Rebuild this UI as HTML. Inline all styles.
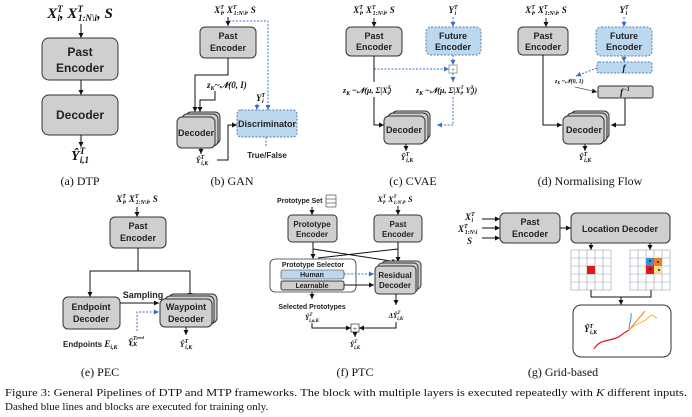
<!DOCTYPE html>
<html><head><meta charset="utf-8"><style>
html,body{margin:0;padding:0;background:#fff}
svg{display:block}
.b{font-family:"Liberation Sans",sans-serif;font-weight:bold;fill:#222}
.m{font-family:"Liberation Serif",serif;font-weight:bold;font-style:italic;fill:#111}
.c{font-family:"Liberation Serif",serif;fill:#111}
.g{fill:#d0cfcf;stroke:#333;stroke-width:1}
.bl{fill:#bcd8ef;stroke:#5a7fa8;stroke-width:1;stroke-dasharray:2 1.5}
.l{stroke:#111;stroke-width:1;fill:none}
.d{stroke:#3a6fd0;stroke-width:1;fill:none;stroke-dasharray:2 1.5}
</style></head><body>
<svg width="692" height="417" viewBox="0 0 692 417" xmlns="http://www.w3.org/2000/svg">
<defs>
<marker id="a" markerWidth="6" markerHeight="6" refX="5" refY="3" orient="auto" markerUnits="userSpaceOnUse"><path d="M0,0.5 L5,3 L0,5.5z" fill="#111"/></marker>
<marker id="ab" markerWidth="6" markerHeight="6" refX="5" refY="3" orient="auto" markerUnits="userSpaceOnUse"><path d="M0,0.5 L5,3 L0,5.5z" fill="#3a6fd0"/></marker>
</defs>

<!-- (a) DTP -->
<text x="80" y="18" class="m" font-size="15" text-anchor="middle">X<tspan font-size="9" dy="-6">T</tspan><tspan font-size="9" dy="9" dx="-5">i</tspan><tspan dy="-3">, X</tspan><tspan font-size="9" dy="-6">T</tspan><tspan font-size="9" dy="9" dx="-5">1:N\i</tspan><tspan dy="-3">, S</tspan></text>
<line x1="81" y1="24" x2="81" y2="38" class="l" marker-end="url(#a)"/>
<rect x="42" y="38" width="76" height="42" rx="7" class="g"/>
<text x="80" y="56" class="b" font-size="12" text-anchor="middle">Past</text>
<text x="80" y="72" class="b" font-size="12" text-anchor="middle">Encoder</text>
<line x1="81" y1="80" x2="81" y2="95" class="l" marker-end="url(#a)"/>
<rect x="42" y="95" width="76" height="40" rx="7" class="g"/>
<text x="80" y="119" class="b" font-size="12" text-anchor="middle">Decoder</text>
<line x1="81" y1="135" x2="81" y2="147" class="l" marker-end="url(#a)"/>
<text x="80" y="160" class="m" font-size="14" text-anchor="middle">Ŷ<tspan font-size="9" dy="-6">T</tspan><tspan font-size="9" dy="9" dx="-5">i,1</tspan></text>
<text x="80" y="185" class="c" font-size="12" text-anchor="middle">(a) DTP</text>

<!-- (b) GAN -->
<text x="235" y="13" class="m" font-size="9" text-anchor="middle">X<tspan font-size="6" dy="-4">T</tspan><tspan font-size="6" dy="6" dx="-3">i</tspan><tspan dy="-2">, X</tspan><tspan font-size="6" dy="-4">T</tspan><tspan font-size="6" dy="6" dx="-3">1:N\i</tspan><tspan dy="-2">, S</tspan></text>
<line x1="228" y1="17" x2="228" y2="26" class="l" marker-end="url(#a)"/>
<path d="M229,21 H268 V110" class="d" marker-end="url(#ab)"/>
<rect x="200" y="27" width="56" height="31" rx="5" class="g"/>
<text x="228" y="39" class="b" font-size="9" text-anchor="middle">Past</text>
<text x="228" y="51" class="b" font-size="9" text-anchor="middle">Encoder</text>
<path d="M228,58 V75 H195 V112" class="l" marker-end="url(#a)"/>
<text x="207" y="88" class="m" font-size="9">z<tspan font-size="6" dy="2">K</tspan><tspan dy="-2">~𝒩(0, I)</tspan></text>
<path d="M215,91 V100 H200 V112" class="l" marker-end="url(#a)"/>
<text x="256" y="101" class="m" font-size="9">Y<tspan font-size="6" dy="-4">T</tspan><tspan font-size="6" dy="6" dx="-3">i</tspan></text>
<line x1="257" y1="104" x2="257" y2="110" class="d" marker-end="url(#ab)"/>
<rect x="186" y="112" width="34" height="32" rx="5" class="g"/>
<rect x="182" y="114" width="36" height="32" rx="5" class="g"/>
<rect x="177" y="117" width="38" height="31" rx="5" class="g"/>
<text x="196" y="136" class="b" font-size="9" text-anchor="middle">Decoder</text>
<rect x="237" y="110" width="60" height="27" rx="4" class="bl"/>
<text x="267" y="127" class="b" font-size="9" text-anchor="middle">Discriminator</text>
<line x1="201" y1="148" x2="201" y2="154" class="l" marker-end="url(#a)"/>
<text x="202" y="163" class="m" font-size="8" text-anchor="middle">Ŷ<tspan font-size="6" dy="-4">T</tspan><tspan font-size="6" dy="6" dx="-3">i,K</tspan></text>
<path d="M217,160 H228 V125 H237" class="l" marker-end="url(#a)"/>
<line x1="266" y1="137" x2="266" y2="147" class="d"/>
<text x="267" y="158" class="b" font-size="8" text-anchor="middle">True/False</text>
<text x="232" y="185" class="c" font-size="12" text-anchor="middle">(b) GAN</text>

<!-- (c) CVAE -->
<text x="374" y="13" class="m" font-size="9" text-anchor="middle">X<tspan font-size="6" dy="-4">T</tspan><tspan font-size="6" dy="6" dx="-3">i</tspan><tspan dy="-2">, X</tspan><tspan font-size="6" dy="-4">T</tspan><tspan font-size="6" dy="6" dx="-3">1:N\i</tspan><tspan dy="-2">, S</tspan></text>
<line x1="374" y1="18" x2="374" y2="27" class="l" marker-end="url(#a)"/>
<rect x="346" y="27" width="56" height="29" rx="5" class="g"/>
<text x="374" y="39" class="b" font-size="9" text-anchor="middle">Past</text>
<text x="374" y="50" class="b" font-size="9" text-anchor="middle">Encoder</text>
<text x="453" y="13" class="m" font-size="9" text-anchor="middle">Y<tspan font-size="6" dy="-4">T</tspan><tspan font-size="6" dy="6" dx="-3">i</tspan></text>
<line x1="453" y1="17" x2="453" y2="27" class="d" marker-end="url(#ab)"/>
<rect x="426" y="27" width="55" height="28" rx="5" class="bl"/>
<text x="453" y="39" class="b" font-size="9" text-anchor="middle">Future</text>
<text x="453" y="50" class="b" font-size="9" text-anchor="middle">Encoder</text>
<line x1="453" y1="55" x2="453" y2="65" class="d" marker-end="url(#ab)"/>
<line x1="374" y1="69" x2="449" y2="69" class="d" marker-end="url(#ab)"/>
<rect x="449" y="65" width="8" height="8" fill="#fff" stroke="#777" stroke-width="0.7"/>
<text x="453" y="72" font-size="7" text-anchor="middle" fill="#555">+</text>
<line x1="453" y1="73" x2="453" y2="82" class="d" marker-end="url(#ab)"/>
<line x1="374" y1="56" x2="374" y2="82" class="l"/>
<text x="343" y="93" class="m" font-size="8">z<tspan font-size="6" dy="2">K</tspan><tspan dy="-2"> ~𝒩(μ, Σ|X</tspan><tspan font-size="5" dy="-4">T</tspan><tspan font-size="5" dy="6" dx="-3">i</tspan><tspan dy="-2">)</tspan></text>
<text x="416" y="93" class="m" font-size="8">z<tspan font-size="6" dy="2">K</tspan><tspan dy="-2"> ~𝒩(μ, Σ|X</tspan><tspan font-size="5" dy="-4">T</tspan><tspan font-size="5" dy="6" dx="-3">i</tspan><tspan dy="-2">, Y</tspan><tspan font-size="5" dy="-4">T</tspan><tspan font-size="5" dy="6" dx="-3">i</tspan><tspan dy="-2">))</tspan></text>
<path d="M374,97 V125 H384" class="l" marker-end="url(#a)"/>
<path d="M453,97 V125 H437" class="d" marker-end="url(#ab)"/>
<rect x="392" y="111" width="38" height="28" rx="5" class="g"/>
<rect x="388" y="113" width="40" height="29" rx="5" class="g"/>
<rect x="384" y="116" width="41" height="28" rx="5" class="g"/>
<text x="404" y="133" class="b" font-size="9" text-anchor="middle">Decoder</text>
<line x1="406" y1="144" x2="406" y2="151" class="l" marker-end="url(#a)"/>
<text x="407" y="160" class="m" font-size="8" text-anchor="middle">Ŷ<tspan font-size="6" dy="-4">T</tspan><tspan font-size="6" dy="6" dx="-3">i,K</tspan></text>
<text x="413" y="185" class="c" font-size="12" text-anchor="middle">(c) CVAE</text>

<!-- (d) NF -->
<text x="546" y="13" class="m" font-size="9" text-anchor="middle">X<tspan font-size="6" dy="-4">T</tspan><tspan font-size="6" dy="6" dx="-3">i</tspan><tspan dy="-2">, X</tspan><tspan font-size="6" dy="-4">T</tspan><tspan font-size="6" dy="6" dx="-3">1:N\i</tspan><tspan dy="-2">, S</tspan></text>
<line x1="546" y1="18" x2="546" y2="27" class="l" marker-end="url(#a)"/>
<rect x="518" y="27" width="50" height="28" rx="5" class="g"/>
<text x="543" y="39" class="b" font-size="9" text-anchor="middle">Past</text>
<text x="543" y="50" class="b" font-size="9" text-anchor="middle">Encoder</text>
<text x="624" y="13" class="m" font-size="9" text-anchor="middle">Y<tspan font-size="6" dy="-4">T</tspan><tspan font-size="6" dy="6" dx="-3">i</tspan></text>
<line x1="624" y1="17" x2="624" y2="27" class="d" marker-end="url(#ab)"/>
<rect x="596" y="27" width="56" height="29" rx="5" class="bl"/>
<text x="624" y="39" class="b" font-size="9" text-anchor="middle">Future</text>
<text x="624" y="50" class="b" font-size="9" text-anchor="middle">Encoder</text>
<line x1="624" y1="56" x2="624" y2="62" class="d" marker-end="url(#ab)"/>
<rect x="597" y="62" width="55" height="11" rx="2" class="bl"/>
<text x="624" y="71" class="m" font-size="9" text-anchor="middle">f</text>
<line x1="597" y1="68" x2="576" y2="76" class="d" marker-end="url(#ab)"/>
<text x="555" y="83" class="m" font-size="6">z<tspan font-size="4" dy="1">K</tspan><tspan dy="-1"> ~𝒩(0, 1)</tspan></text>
<line x1="575" y1="87" x2="597" y2="92" stroke="#555" stroke-width="0.8" marker-end="url(#a)"/>
<rect x="598" y="86" width="55" height="12" rx="2" class="g"/>
<text x="625" y="95" class="m" font-size="9" text-anchor="middle">f<tspan font-size="6" dy="-4">−1</tspan></text>
<path d="M543,55 V125 H562" class="l" marker-end="url(#a)"/>
<path d="M625,98 V125 H611" class="l" marker-end="url(#a)"/>
<rect x="571" y="111" width="38" height="28" rx="5" class="g"/>
<rect x="567" y="113" width="40" height="29" rx="5" class="g"/>
<rect x="563" y="116" width="41" height="28" rx="5" class="g"/>
<text x="584" y="133" class="b" font-size="9" text-anchor="middle">Decoder</text>
<line x1="585" y1="144" x2="585" y2="151" class="l" marker-end="url(#a)"/>
<text x="585" y="160" class="m" font-size="8" text-anchor="middle">Ŷ<tspan font-size="6" dy="-4">T</tspan><tspan font-size="6" dy="6" dx="-3">i,K</tspan></text>
<text x="590" y="185" class="c" font-size="12" text-anchor="middle">(d) Normalising Flow</text>

<!-- (e) PEC -->
<text x="137" y="202" class="m" font-size="9" text-anchor="middle">X<tspan font-size="6" dy="-4">T</tspan><tspan font-size="6" dy="6" dx="-3">i</tspan><tspan dy="-2">, X</tspan><tspan font-size="6" dy="-4">T</tspan><tspan font-size="6" dy="6" dx="-3">1:N\i</tspan><tspan dy="-2">, S</tspan></text>
<line x1="137" y1="207" x2="137" y2="217" class="l" marker-end="url(#a)"/>
<rect x="110" y="217" width="56" height="31" rx="5" class="g"/>
<text x="138" y="229" class="b" font-size="9" text-anchor="middle">Past</text>
<text x="138" y="241" class="b" font-size="9" text-anchor="middle">Encoder</text>
<path d="M138,248 V271" class="l"/>
<path d="M90,297 V271 H190 V296" class="l"/>
<line x1="90" y1="290" x2="90" y2="297" class="l" marker-end="url(#a)"/>
<line x1="190" y1="290" x2="190" y2="298" class="l" marker-end="url(#a)"/>
<rect x="63" y="297" width="57" height="32" rx="5" class="g"/>
<text x="91" y="310" class="b" font-size="9" text-anchor="middle">Endpoint</text>
<text x="91" y="322" class="b" font-size="9" text-anchor="middle">Decoder</text>
<text x="143" y="298" class="b" font-size="9" text-anchor="middle">Sampling</text>
<line x1="120" y1="303" x2="159" y2="303" class="l" marker-end="url(#a)"/>
<path d="M137,331 V312 H159" class="d" marker-end="url(#ab)"/>
<rect x="169" y="294" width="48" height="29" rx="5" class="g"/>
<rect x="165" y="296" width="49" height="29" rx="5" class="g"/>
<rect x="160" y="299" width="52" height="28" rx="5" class="g"/>
<text x="186" y="310" class="b" font-size="9" text-anchor="middle">Waypoint</text>
<text x="186" y="322" class="b" font-size="9" text-anchor="middle">Decoder</text>
<line x1="186" y1="327" x2="186" y2="335" class="l" marker-end="url(#a)"/>
<text x="63" y="347" class="b" font-size="8">Endpoints <tspan class="m" font-size="9">E</tspan><tspan class="m" font-size="6" dy="2">i,K</tspan></text>
<text x="128" y="345" class="m" font-size="8">Ŷ<tspan font-size="6" dy="-5">T</tspan><tspan font-size="4" dy="-1">pred</tspan><tspan font-size="6" dy="7" dx="-14">i,K</tspan></text>
<text x="186" y="347" class="m" font-size="8" text-anchor="middle">Ŷ<tspan font-size="6" dy="-4">T</tspan><tspan font-size="6" dy="6" dx="-3">i,K</tspan></text>
<text x="100" y="376" class="c" font-size="12" text-anchor="middle">(e) PEC</text>

<!-- (f) PTC -->
<text x="277" y="203" class="b" font-size="7">Prototype Set</text>
<g stroke="#555" stroke-width="0.7" fill="#fff"><rect x="326" y="195" width="10" height="12" rx="1"/><line x1="326" y1="199" x2="336" y2="199"/><line x1="326" y1="203" x2="336" y2="203"/></g>
<line x1="312" y1="207" x2="312" y2="215" class="l" marker-end="url(#a)"/>
<text x="395" y="202" class="m" font-size="8" text-anchor="middle">X<tspan font-size="5" dy="-4">T</tspan><tspan font-size="5" dy="6" dx="-3">i</tspan><tspan dy="-2">, X</tspan><tspan font-size="5" dy="-4">T</tspan><tspan font-size="5" dy="6" dx="-3">1:N\i</tspan><tspan dy="-2">, S</tspan></text>
<line x1="398" y1="206" x2="398" y2="215" class="l" marker-end="url(#a)"/>
<rect x="288" y="215" width="49" height="27" rx="4" class="g"/>
<text x="312" y="227" class="b" font-size="8" text-anchor="middle">Prototype</text>
<text x="312" y="237" class="b" font-size="8" text-anchor="middle">Encoder</text>
<rect x="374" y="215" width="48" height="27" rx="4" class="g"/>
<text x="398" y="227" class="b" font-size="8" text-anchor="middle">Past</text>
<text x="398" y="237" class="b" font-size="8" text-anchor="middle">Encoder</text>
<line x1="313" y1="242" x2="313" y2="259" class="l" marker-end="url(#a)"/>
<line x1="313" y1="249" x2="397" y2="262" class="l" marker-end="url(#a)"/>
<line x1="398" y1="242" x2="398" y2="262" class="l" marker-end="url(#a)"/>
<line x1="398" y1="249" x2="318" y2="258" class="l"/>
<rect x="270" y="259" width="86" height="33" rx="5" fill="#fff" stroke="#333" stroke-width="0.8"/>
<text x="313" y="267" class="b" font-size="7" text-anchor="middle">Prototype Selector</text>
<rect x="281" y="270" width="63" height="9" rx="2" fill="#bcd8ef" stroke="#333" stroke-width="0.6"/>
<text x="312" y="277" class="b" font-size="7" text-anchor="middle">Human</text>
<rect x="281" y="281" width="63" height="9" rx="2" class="g" stroke-width="0.6"/>
<text x="312" y="288" class="b" font-size="7" text-anchor="middle">Learnable</text>
<line x1="344" y1="274" x2="374" y2="274" class="d" marker-end="url(#ab)"/>
<line x1="344" y1="285" x2="374" y2="285" class="l" marker-end="url(#a)"/>
<rect x="382" y="261" width="39" height="28" rx="4" class="g"/>
<rect x="378" y="263" width="40" height="29" rx="4" class="g"/>
<rect x="375" y="266" width="41" height="28" rx="4" class="g"/>
<text x="395" y="278" class="b" font-size="8" text-anchor="middle">Residual</text>
<text x="395" y="288" class="b" font-size="8" text-anchor="middle">Decoder</text>
<line x1="312" y1="292" x2="312" y2="299" class="l" marker-end="url(#a)"/>
<line x1="396" y1="294" x2="396" y2="305" class="l" marker-end="url(#a)"/>
<text x="312" y="309" class="b" font-size="7" text-anchor="middle">Selected Prototypes</text>
<text x="312" y="320" class="m" font-size="7" text-anchor="middle">Ŷ<tspan font-size="5" dy="-4">T</tspan><tspan font-size="5" dy="6" dx="-3">i,a,K</tspan></text>
<text x="396" y="318" class="m" font-size="7" text-anchor="middle">ΔŶ<tspan font-size="5" dy="-4">T</tspan><tspan font-size="5" dy="6" dx="-3">i,K</tspan></text>
<path d="M312,323 V328 H351" class="l" marker-end="url(#a)"/>
<path d="M396,322 V328 H359" class="l" marker-end="url(#a)"/>
<rect x="351" y="324" width="8" height="8" fill="#fff" stroke="#333" stroke-width="0.7"/>
<text x="355" y="331" font-size="7" text-anchor="middle">+</text>
<line x1="355" y1="332" x2="355" y2="337" class="l" marker-end="url(#a)"/>
<text x="355" y="347" class="m" font-size="7" text-anchor="middle">Ŷ<tspan font-size="5" dy="-4">T</tspan><tspan font-size="5" dy="6" dx="-3">i,K</tspan></text>
<text x="355" y="376" class="c" font-size="12" text-anchor="middle">(f) PTC</text>

<!-- (g) Grid -->
<text x="465" y="220" class="m" font-size="9">X<tspan font-size="6" dy="-4">T</tspan><tspan font-size="6" dy="6" dx="-3">i</tspan></text>
<text x="458" y="232" class="m" font-size="9">X<tspan font-size="6" dy="-4">T</tspan><tspan font-size="6" dy="6" dx="-3">1:N\i</tspan></text>
<text x="467" y="244" class="m" font-size="9">S</text>
<line x1="482" y1="219" x2="500" y2="219" class="l" marker-end="url(#a)"/>
<line x1="482" y1="228" x2="500" y2="228" class="l" marker-end="url(#a)"/>
<line x1="482" y1="238" x2="500" y2="238" class="l" marker-end="url(#a)"/>
<rect x="500" y="213" width="60" height="30" rx="5" class="g"/>
<text x="530" y="225" class="b" font-size="9" text-anchor="middle">Past</text>
<text x="530" y="237" class="b" font-size="9" text-anchor="middle">Encoder</text>
<line x1="560" y1="228" x2="571" y2="228" class="l" marker-end="url(#a)"/>
<rect x="571" y="213" width="99" height="30" rx="5" class="g"/>
<text x="620" y="232" class="b" font-size="9" text-anchor="middle">Location Decoder</text>
<line x1="591" y1="243" x2="591" y2="250" class="l" marker-end="url(#a)"/>
<line x1="650" y1="243" x2="650" y2="250" class="l" marker-end="url(#a)"/>
<g stroke="#9aa3b8" stroke-width="0.6" fill="none">
<rect x="571" y="250" width="40" height="40"/><rect x="630" y="250" width="40" height="40"/>
<path d="M579,250V290M587,250V290M595,250V290M603,250V290M571,258H611M571,266H611M571,274H611M571,282H611"/>
<path d="M638,250V290M646,250V290M654,250V290M662,250V290M630,258H670M630,266H670M630,274H670M630,282H670"/>
</g>
<rect x="587" y="266" width="8" height="8" fill="#e8141a"/>
<rect x="646" y="258" width="8" height="8" fill="#3d8fd6"/>
<rect x="654" y="258" width="8" height="8" fill="#ef7f1a"/>
<rect x="646" y="266" width="8" height="8" fill="#e8141a"/>
<rect x="654" y="266" width="8" height="8" fill="#f7dc8a"/>
<g fill="#222"><circle cx="650" cy="261" r="1"/><circle cx="658" cy="262" r="1"/><circle cx="650" cy="269" r="1"/><circle cx="659" cy="270" r="1"/></g>
<path d="M591,290 V297 H651 V290" class="l"/>
<line x1="621" y1="297" x2="621" y2="305" class="l" marker-end="url(#a)"/>
<rect x="573" y="305" width="98" height="52" rx="8" fill="#fff" stroke="#333" stroke-width="1"/>
<text x="584" y="332" class="m" font-size="9">Ŷ<tspan font-size="6" dy="-4">T</tspan><tspan font-size="6" dy="6" dx="-3">i,K</tspan></text>
<path d="M594,349 C600,338 612,342 620,336 S626,332 629,330" stroke="#e8141a" stroke-width="1.2" fill="none"/>
<path d="M629,330 C629,322 632,320 631,313" stroke="#3d8fd6" stroke-width="1" fill="none"/>
<path d="M629,330 L645,311" stroke="#ef7f1a" stroke-width="1" fill="none"/>
<path d="M629,330 C640,320 642,324 648,318 S653,317 657,318" stroke="#f2b81c" stroke-width="1" fill="none"/>
<text x="563" y="376" class="c" font-size="12" text-anchor="middle">(g) Grid-based</text>

<!-- caption -->
<text x="5" y="396" class="c" font-size="11" textLength="682" lengthAdjust="spacingAndGlyphs">Figure 3: General Pipelines of DTP and MTP frameworks. The block with multiple layers is executed repeatedly with <tspan font-style="italic">K</tspan> different inputs.</text>
<text x="5" y="410" class="c" font-size="11">Dashed blue lines and blocks are executed for training only.</text>
</svg>
</body></html>
